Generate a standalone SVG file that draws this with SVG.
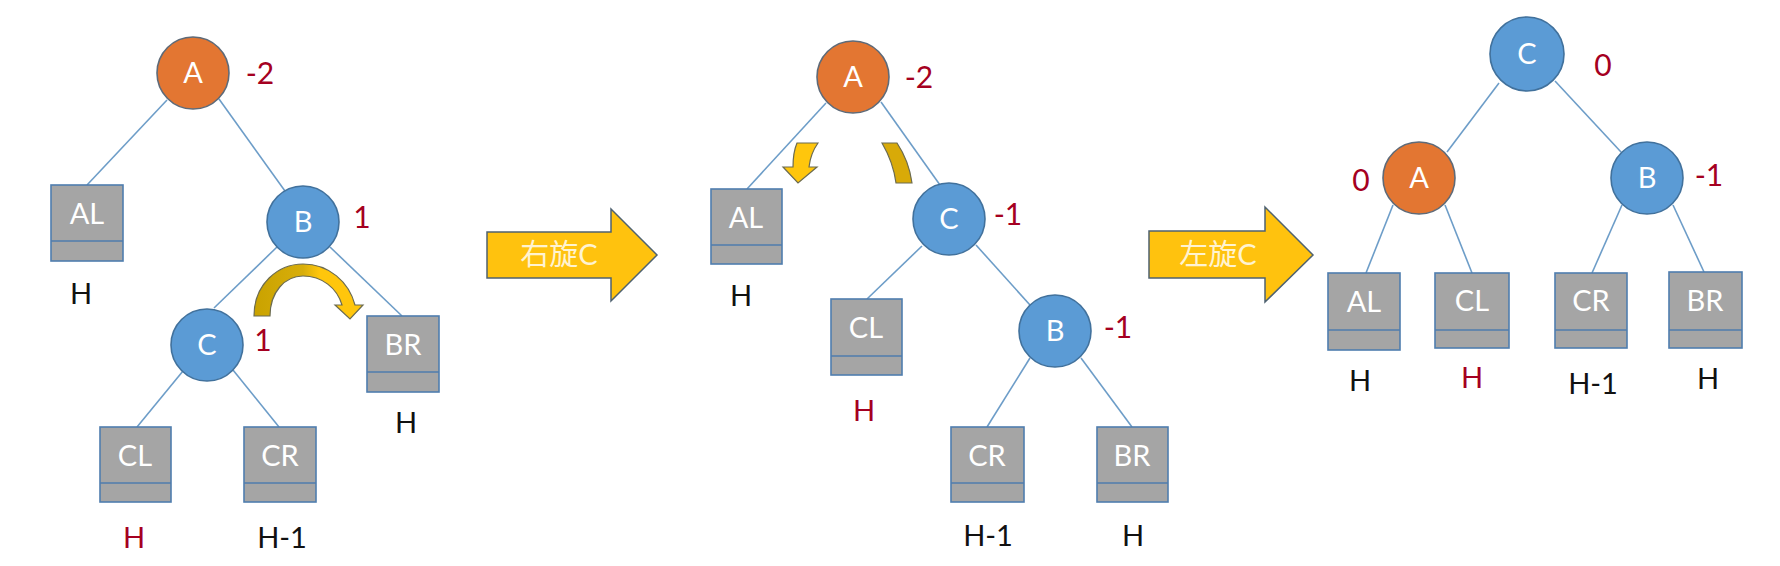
<svg xmlns="http://www.w3.org/2000/svg" width="1780" height="566" viewBox="0 0 1780 566">
<defs>
<style>
.edge{stroke:#6D9DC8;stroke-width:1.6;fill:none}
.cb{fill:#5B9BD5;stroke:#41719C;stroke-width:1.6}
.co{fill:#E37632;stroke:#5E6A78;stroke-width:1.6}
.box{fill:#A5A5A5;stroke:#4F7DAE;stroke-width:1.6}
.div{stroke:#4F7DAE;stroke-width:1.6}
.nt{font-family:Lato,"Liberation Sans",sans-serif;font-size:29px;fill:#FFFFFF;text-anchor:middle}
.bf{font-family:Lato,"Liberation Sans",sans-serif;font-size:30px;fill:#A50021;text-anchor:middle}
.hk{font-family:Lato,"Liberation Sans",sans-serif;font-size:29px;fill:#111111;text-anchor:middle}
.hr{font-family:Lato,"Liberation Sans",sans-serif;font-size:29px;fill:#A50021;text-anchor:middle}
.big{fill:#FFC20E;stroke:#4F6270;stroke-width:1.5}
.bt{font-family:Lato,"Noto Sans CJK SC",sans-serif;font-size:29px;fill:#FFF3D0;text-anchor:middle}
.curl{stroke:#6B6B50;stroke-width:1.2}
</style>
<linearGradient id="gold" x1="0" y1="0" x2="1" y2="0">
<stop offset="0" stop-color="#C9A200"/>
<stop offset="0.45" stop-color="#D8AE0A"/>
<stop offset="0.6" stop-color="#FFC60C"/>
<stop offset="1" stop-color="#FFC60C"/>
</linearGradient>
</defs>
<rect width="1780" height="566" fill="#FFFFFF"/>

<g id="connectors">
<line class="edge" x1="167" y1="100" x2="87" y2="185"/>
<line class="edge" x1="219" y1="99" x2="285" y2="191"/>
<line class="edge" x1="277" y1="247" x2="214" y2="308"/>
<line class="edge" x1="330" y1="247" x2="402" y2="316"/>
<line class="edge" x1="183" y1="371" x2="137" y2="427"/>
<line class="edge" x1="233" y1="370" x2="279" y2="427"/>
<line class="edge" x1="826" y1="103" x2="747" y2="189"/>
<line class="edge" x1="881" y1="102" x2="940" y2="185"/>
<line class="edge" x1="922" y1="246" x2="867" y2="299"/>
<line class="edge" x1="976" y1="245" x2="1030" y2="305"/>
<line class="edge" x1="1030" y1="358" x2="987" y2="427"/>
<line class="edge" x1="1081" y1="358" x2="1132" y2="427"/>
<line class="edge" x1="1499" y1="83" x2="1447" y2="152"/>
<line class="edge" x1="1555" y1="81" x2="1621" y2="152"/>
<line class="edge" x1="1393" y1="205" x2="1366" y2="273"/>
<line class="edge" x1="1445" y1="205" x2="1472" y2="273"/>
<line class="edge" x1="1622" y1="205" x2="1592" y2="273"/>
<line class="edge" x1="1673" y1="205" x2="1704" y2="272"/>
</g>

<g id="p1-A"><circle class="co" cx="193" cy="73" r="36"/><text class="nt" x="193" y="83">A</text></g>
<text class="bf" x="260" y="84">-2</text>
<g id="p1-B"><circle class="cb" cx="303" cy="222" r="36"/><text class="nt" x="303" y="232">B</text></g>
<text class="bf" x="362" y="228">1</text>
<g id="p1-C"><circle class="cb" cx="207" cy="345" r="36"/><text class="nt" x="207" y="355">C</text></g>
<text class="bf" x="263" y="351">1</text>
<g id="p1-AL"><rect class="box" x="51" y="185" width="72" height="76"/><line class="div" x1="51" y1="241" x2="123" y2="241"/><text class="nt" x="87" y="224">AL</text></g>
<text class="hk" x="81" y="304">H</text>
<g id="p1-BR"><rect class="box" x="367" y="316" width="72" height="76"/><line class="div" x1="367" y1="372" x2="439" y2="372"/><text class="nt" x="403" y="355">BR</text></g>
<text class="hk" x="406" y="433">H</text>
<g id="p1-CL"><rect class="box" x="100" y="427" width="71" height="75"/><line class="div" x1="100" y1="483" x2="171" y2="483"/><text class="nt" x="135" y="466">CL</text></g>
<text class="hr" x="134" y="548">H</text>
<g id="p1-CR"><rect class="box" x="244" y="427" width="72" height="75"/><line class="div" x1="244" y1="483" x2="316" y2="483"/><text class="nt" x="280" y="466">CR</text></g>
<text class="hk" x="282" y="548">H-1</text>
<g id="p1-curl">
<path class="curl" fill="url(#gold)" d="M 254 316 C 254 284 278 264 303 264 C 329 264 349 282 355 305 L 363 305 L 350 319 L 335 305 L 342 305 C 337 288 322 276 303 276 C 285 276 270 292 270 316 Z"/>
</g>

<g id="arrow1">
<path class="big" d="M 487 232 L 611 232 L 611 209 L 657 255 L 611 301 L 611 278 L 487 278 Z"/>
<text class="bt" x="559" y="265">右旋C</text>
</g>

<g id="p2-A"><circle class="co" cx="853" cy="77" r="36"/><text class="nt" x="853" y="87">A</text></g>
<text class="bf" x="919" y="88">-2</text>
<g id="p2-C"><circle class="cb" cx="949" cy="219" r="36"/><text class="nt" x="949" y="229">C</text></g>
<text class="bf" x="1008" y="225">-1</text>
<g id="p2-B"><circle class="cb" cx="1055" cy="331" r="36"/><text class="nt" x="1055" y="341">B</text></g>
<text class="bf" x="1118" y="338">-1</text>
<g id="p2-AL"><rect class="box" x="711" y="189" width="71" height="75"/><line class="div" x1="711" y1="245" x2="782" y2="245"/><text class="nt" x="746" y="228">AL</text></g>
<text class="hk" x="741" y="306">H</text>
<g id="p2-CL"><rect class="box" x="831" y="299" width="71" height="76"/><line class="div" x1="831" y1="356" x2="902" y2="356"/><text class="nt" x="866" y="338">CL</text></g>
<text class="hr" x="864" y="421">H</text>
<g id="p2-CR"><rect class="box" x="951" y="427" width="73" height="75"/><line class="div" x1="951" y1="483" x2="1024" y2="483"/><text class="nt" x="987" y="466">CR</text></g>
<text class="hk" x="988" y="546">H-1</text>
<g id="p2-BR"><rect class="box" x="1097" y="427" width="71" height="75"/><line class="div" x1="1097" y1="483" x2="1168" y2="483"/><text class="nt" x="1132" y="466">BR</text></g>
<text class="hk" x="1133" y="546">H</text>
<g id="p2-curl">
<path class="curl" fill="#FFC60C" d="M 797 143 L 818 143 C 813 150 810 158 809 167 L 817 167 L 798 183 L 783 167 L 793 167 C 793 158 794 150 797 143 Z"/>
<path class="curl" fill="#D8AA08" d="M 882 143 L 897 143 C 905 155 910 168 912 183 L 896 183 C 894 168 889 155 882 143 Z"/>
</g>

<g id="arrow2">
<path class="big" d="M 1149 231 L 1265 231 L 1265 207 L 1313 255 L 1265 302 L 1265 278 L 1149 278 Z"/>
<text class="bt" x="1218" y="265">左旋C</text>
</g>

<g id="p3-C"><circle class="cb" cx="1527" cy="54" r="37"/><text class="nt" x="1527" y="64">C</text></g>
<text class="bf" x="1603" y="76">0</text>
<g id="p3-A"><circle class="co" cx="1419" cy="178" r="36"/><text class="nt" x="1419" y="188">A</text></g>
<text class="bf" x="1361" y="191">0</text>
<g id="p3-B"><circle class="cb" cx="1647" cy="178" r="36"/><text class="nt" x="1647" y="188">B</text></g>
<text class="bf" x="1709" y="186">-1</text>
<g id="p3-AL"><rect class="box" x="1328" y="273" width="72" height="77"/><line class="div" x1="1328" y1="330" x2="1400" y2="330"/><text class="nt" x="1364" y="312">AL</text></g>
<text class="hk" x="1360" y="391">H</text>
<g id="p3-CL"><rect class="box" x="1435" y="273" width="74" height="75"/><line class="div" x1="1435" y1="330" x2="1509" y2="330"/><text class="nt" x="1472" y="311">CL</text></g>
<text class="hr" x="1472" y="388">H</text>
<g id="p3-CR"><rect class="box" x="1555" y="273" width="72" height="75"/><line class="div" x1="1555" y1="330" x2="1627" y2="330"/><text class="nt" x="1591" y="311">CR</text></g>
<text class="hk" x="1593" y="394">H-1</text>
<g id="p3-BR"><rect class="box" x="1669" y="272" width="73" height="76"/><line class="div" x1="1669" y1="330" x2="1742" y2="330"/><text class="nt" x="1705" y="311">BR</text></g>
<text class="hk" x="1708" y="389">H</text>
</svg>
